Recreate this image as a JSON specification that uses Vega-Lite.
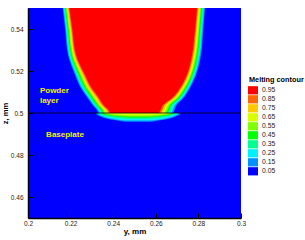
{
  "$schema": "https://vega.github.io/schema/vega-lite/v6.json",
  "width": 213,
  "height": 210,
  "autosize": {"type": "none"},
  "padding": {"left": 28, "top": 8, "right": 64, "bottom": 22},
  "background": "white",
  "config": {"view": {"fill": "#0000ff", "stroke": null}, "font": "Liberation Sans"},
  "datasets": {
    "field": [
      {"lev": "0.15", "z": 0.49586, "xl": 0.24573, "xr": 0.25756},
      {"lev": "0.15", "z": 0.4969, "xl": 0.23882, "xr": 0.26446},
      {"lev": "0.15", "z": 0.49834, "xl": 0.23389, "xr": 0.26939},
      {"lev": "0.15", "z": 0.4999, "xl": 0.23192, "xr": 0.27136},
      {"lev": "0.15", "z": 0.5, "xl": 0.23286, "xr": 0.26831},
      {"lev": "0.15", "z": 0.5014, "xl": 0.23225, "xr": 0.26878},
      {"lev": "0.15", "z": 0.5038, "xl": 0.23028, "xr": 0.26981},
      {"lev": "0.15", "z": 0.5071, "xl": 0.22793, "xr": 0.273},
      {"lev": "0.15", "z": 0.5119, "xl": 0.22474, "xr": 0.27606},
      {"lev": "0.15", "z": 0.5181, "xl": 0.22207, "xr": 0.27887},
      {"lev": "0.15", "z": 0.5276, "xl": 0.21878, "xr": 0.28122},
      {"lev": "0.15", "z": 0.5395, "xl": 0.21746, "xr": 0.28225},
      {"lev": "0.15", "z": 0.55, "xl": 0.21629, "xr": 0.2831},

      {"lev": "0.25", "z": 0.49643, "xl": 0.24601, "xr": 0.25727},
      {"lev": "0.25", "z": 0.49732, "xl": 0.23943, "xr": 0.26385},
      {"lev": "0.25", "z": 0.49857, "xl": 0.23474, "xr": 0.26854},
      {"lev": "0.25", "z": 0.4999, "xl": 0.23286, "xr": 0.27042},
      {"lev": "0.25", "z": 0.5, "xl": 0.23357, "xr": 0.26746},
      {"lev": "0.25", "z": 0.5014, "xl": 0.23294, "xr": 0.26796},
      {"lev": "0.25", "z": 0.5038, "xl": 0.23093, "xr": 0.26901},
      {"lev": "0.25", "z": 0.5071, "xl": 0.22861, "xr": 0.27233},
      {"lev": "0.25", "z": 0.5119, "xl": 0.22539, "xr": 0.27547},
      {"lev": "0.25", "z": 0.5181, "xl": 0.22266, "xr": 0.27833},
      {"lev": "0.25", "z": 0.5276, "xl": 0.21925, "xr": 0.28069},
      {"lev": "0.25", "z": 0.5395, "xl": 0.21788, "xr": 0.28177},
      {"lev": "0.25", "z": 0.55, "xl": 0.21668, "xr": 0.28263},

      {"lev": "0.35", "z": 0.49714, "xl": 0.24629, "xr": 0.25699},
      {"lev": "0.35", "z": 0.49786, "xl": 0.24004, "xr": 0.26324},
      {"lev": "0.35", "z": 0.49886, "xl": 0.23558, "xr": 0.2677},
      {"lev": "0.35", "z": 0.4999, "xl": 0.2338, "xr": 0.26948},
      {"lev": "0.35", "z": 0.5, "xl": 0.23427, "xr": 0.26661},
      {"lev": "0.35", "z": 0.5014, "xl": 0.23364, "xr": 0.26714},
      {"lev": "0.35", "z": 0.5038, "xl": 0.23157, "xr": 0.2682},
      {"lev": "0.35", "z": 0.5071, "xl": 0.22928, "xr": 0.27165},
      {"lev": "0.35", "z": 0.5119, "xl": 0.22603, "xr": 0.27489},
      {"lev": "0.35", "z": 0.5181, "xl": 0.22324, "xr": 0.27778},
      {"lev": "0.35", "z": 0.5276, "xl": 0.21972, "xr": 0.28016},
      {"lev": "0.35", "z": 0.5395, "xl": 0.21831, "xr": 0.28129},
      {"lev": "0.35", "z": 0.55, "xl": 0.21707, "xr": 0.28216},

      {"lev": "0.45", "z": 0.49786, "xl": 0.24664, "xr": 0.25664},
      {"lev": "0.45", "z": 0.4984, "xl": 0.24081, "xr": 0.26247},
      {"lev": "0.45", "z": 0.49914, "xl": 0.23664, "xr": 0.26664},
      {"lev": "0.45", "z": 0.4999, "xl": 0.23497, "xr": 0.26831},
      {"lev": "0.45", "z": 0.5, "xl": 0.23498, "xr": 0.26575},
      {"lev": "0.45", "z": 0.5014, "xl": 0.23433, "xr": 0.26632},
      {"lev": "0.45", "z": 0.5038, "xl": 0.23222, "xr": 0.2674},
      {"lev": "0.45", "z": 0.5071, "xl": 0.22996, "xr": 0.27098},
      {"lev": "0.45", "z": 0.5119, "xl": 0.22668, "xr": 0.2743},
      {"lev": "0.45", "z": 0.5181, "xl": 0.22383, "xr": 0.27724},
      {"lev": "0.45", "z": 0.5276, "xl": 0.22019, "xr": 0.27963},
      {"lev": "0.45", "z": 0.5395, "xl": 0.21873, "xr": 0.28081},
      {"lev": "0.45", "z": 0.55, "xl": 0.21745, "xr": 0.28169},

      {"lev": "0.55", "z": 0.49833, "xl": 0.24692, "xr": 0.25636},
      {"lev": "0.55", "z": 0.49875, "xl": 0.24142, "xr": 0.26186},
      {"lev": "0.55", "z": 0.49933, "xl": 0.23749, "xr": 0.2658},
      {"lev": "0.55", "z": 0.4999, "xl": 0.23591, "xr": 0.26737},
      {"lev": "0.55", "z": 0.5, "xl": 0.23568, "xr": 0.2649},
      {"lev": "0.55", "z": 0.5014, "xl": 0.23502, "xr": 0.2655},
      {"lev": "0.55", "z": 0.5038, "xl": 0.23287, "xr": 0.2666},
      {"lev": "0.55", "z": 0.5071, "xl": 0.23063, "xr": 0.27031},
      {"lev": "0.55", "z": 0.5119, "xl": 0.22733, "xr": 0.27371},
      {"lev": "0.55", "z": 0.5181, "xl": 0.22442, "xr": 0.27669},
      {"lev": "0.55", "z": 0.5276, "xl": 0.22066, "xr": 0.2791},
      {"lev": "0.55", "z": 0.5395, "xl": 0.21915, "xr": 0.28033},
      {"lev": "0.55", "z": 0.55, "xl": 0.21784, "xr": 0.28122},

      {"lev": "0.65", "z": 0.49881, "xl": 0.24727, "xr": 0.25601},
      {"lev": "0.65", "z": 0.49911, "xl": 0.24218, "xr": 0.2611},
      {"lev": "0.65", "z": 0.49952, "xl": 0.23854, "xr": 0.26474},
      {"lev": "0.65", "z": 0.4999, "xl": 0.23709, "xr": 0.26619},
      {"lev": "0.65", "z": 0.5, "xl": 0.23639, "xr": 0.26405},
      {"lev": "0.65", "z": 0.5014, "xl": 0.23571, "xr": 0.26467},
      {"lev": "0.65", "z": 0.5038, "xl": 0.23351, "xr": 0.26579},
      {"lev": "0.65", "z": 0.5071, "xl": 0.23131, "xr": 0.26963},
      {"lev": "0.65", "z": 0.5119, "xl": 0.22797, "xr": 0.27312},
      {"lev": "0.65", "z": 0.5181, "xl": 0.225, "xr": 0.27615},
      {"lev": "0.65", "z": 0.5276, "xl": 0.22113, "xr": 0.27858},
      {"lev": "0.65", "z": 0.5395, "xl": 0.21957, "xr": 0.27984},
      {"lev": "0.65", "z": 0.55, "xl": 0.21823, "xr": 0.28075},

      {"lev": "0.75", "z": 0.5, "xl": 0.23709, "xr": 0.2632},
      {"lev": "0.75", "z": 0.5014, "xl": 0.23641, "xr": 0.26385},
      {"lev": "0.75", "z": 0.5038, "xl": 0.23416, "xr": 0.26499},
      {"lev": "0.75", "z": 0.5071, "xl": 0.23198, "xr": 0.26896},
      {"lev": "0.75", "z": 0.5119, "xl": 0.22862, "xr": 0.27254},
      {"lev": "0.75", "z": 0.5181, "xl": 0.22559, "xr": 0.2756},
      {"lev": "0.75", "z": 0.5276, "xl": 0.2216, "xr": 0.27805},
      {"lev": "0.75", "z": 0.5395, "xl": 0.22, "xr": 0.27936},
      {"lev": "0.75", "z": 0.55, "xl": 0.21862, "xr": 0.28028},

      {"lev": "0.85", "z": 0.5, "xl": 0.2378, "xr": 0.26235},
      {"lev": "0.85", "z": 0.5014, "xl": 0.2371, "xr": 0.26303},
      {"lev": "0.85", "z": 0.5038, "xl": 0.2348, "xr": 0.26418},
      {"lev": "0.85", "z": 0.5071, "xl": 0.23266, "xr": 0.26828},
      {"lev": "0.85", "z": 0.5119, "xl": 0.22926, "xr": 0.27195},
      {"lev": "0.85", "z": 0.5181, "xl": 0.22617, "xr": 0.27506},
      {"lev": "0.85", "z": 0.5276, "xl": 0.22207, "xr": 0.27752},
      {"lev": "0.85", "z": 0.5395, "xl": 0.22042, "xr": 0.27888},
      {"lev": "0.85", "z": 0.55, "xl": 0.219, "xr": 0.27981},

      {"lev": "0.95", "z": 0.5, "xl": 0.2385, "xr": 0.2615},
      {"lev": "0.95", "z": 0.5014, "xl": 0.23779, "xr": 0.26221},
      {"lev": "0.95", "z": 0.5038, "xl": 0.23545, "xr": 0.26338},
      {"lev": "0.95", "z": 0.5071, "xl": 0.23333, "xr": 0.26761},
      {"lev": "0.95", "z": 0.5119, "xl": 0.22991, "xr": 0.27136},
      {"lev": "0.95", "z": 0.5181, "xl": 0.22676, "xr": 0.27451},
      {"lev": "0.95", "z": 0.5276, "xl": 0.22254, "xr": 0.27699},
      {"lev": "0.95", "z": 0.5395, "xl": 0.22084, "xr": 0.2784},
      {"lev": "0.95", "z": 0.55, "xl": 0.21939, "xr": 0.27934}
    ],
    "labels": [
      {"label": "Powder", "x": 0.2056, "z": 0.5106},
      {"label": "layer", "x": 0.2056, "z": 0.5059},
      {"label": "Baseplate", "x": 0.2085, "z": 0.4895}
    ],
    "iface": [{"z": 0.5}]
  },
  "layer": [
    {
      "data": {"name": "field"},
      "mark": {"type": "area", "orient": "horizontal", "interpolate": "monotone", "opacity": 1, "clip": true},
      "encoding": {
        "y": {
          "field": "z", "type": "quantitative",
          "scale": {"domain": [0.45, 0.55], "nice": false, "zero": false},
          "axis": {
            "orient": "left",
            "zindex": 1,
            "title": "z, mm",
            "values": [0.46, 0.48, 0.5, 0.52, 0.54],
            "format": "~g",
            "tickSize": -5,
            "tickColor": "black", "tickWidth": 1,
            "domainColor": "black", "domainWidth": 1.5,
            "labelFontSize": 6.5, "labelColor": "#222222", "labelPadding": 10, "labelFlush": false, "labelOverlap": false,
            "titleFontSize": 7.5, "titleFontWeight": "bold", "titleColor": "black", "titlePadding": 1,
            "grid": false
          }
        },
        "x": {
          "field": "xl", "type": "quantitative", "stack": null,
          "scale": {"domain": [0.2, 0.3], "nice": false, "zero": false},
          "axis": {
            "orient": "bottom",
            "zindex": 1,
            "title": "y, mm",
            "values": [0.2, 0.205, 0.21, 0.215, 0.22, 0.225, 0.23, 0.235, 0.24, 0.245, 0.25, 0.255, 0.26, 0.265, 0.27, 0.275, 0.28, 0.285, 0.29, 0.295, 0.3],
            "format": "~g",
            "labelExpr": "round(datum.value*1000) % 20 == 0 ? datum.label : ''",
            "tickSize": {"condition": {"test": "round(datum.value*1000) % 20 == 0", "value": -5}, "value": -3},
            "tickColor": "black", "tickWidth": 1,
            "domainColor": "black", "domainWidth": 1.5,
            "labelFontSize": 6.5, "labelColor": "#222222", "labelPadding": 7, "labelFlush": false, "labelOverlap": false,
            "titleFontSize": 8, "titleFontWeight": "bold", "titleColor": "black", "titlePadding": 1,
            "grid": false
          }
        },
        "x2": {"field": "xr"},
        "color": {
          "field": "lev", "type": "nominal",
          "scale": {
            "domain": ["0.95", "0.85", "0.75", "0.65", "0.55", "0.45", "0.35", "0.25", "0.15", "0.05"],
            "range": ["#ff0000", "#ff6600", "#ffc800", "#d8ff00", "#80ff00", "#00ff00", "#00ff90", "#00f0ff", "#0090ff", "#0000ff"]
          },
          "legend": {
            "orient": "none", "legendX": 221, "legendY": 68,
            "title": "Melting contour", "titleFontSize": 7.3, "titleFontWeight": "bold", "titleColor": "black", "titlePadding": 3,
            "labelFontSize": 6.8, "labelColor": "#222222", "labelOffset": 5,
            "symbolType": "M-1.33,-1.1H1.33V1.1H-1.33Z", "symbolSize": 56, "symbolStrokeWidth": 0, "symbolOpacity": 1,
            "rowPadding": -2.6, "padding": 0
          }
        }
      }
    },
    {
      "data": {"name": "iface"},
      "mark": {"type": "rule", "color": "#000000", "strokeWidth": 0.8},
      "encoding": {"y": {"field": "z", "type": "quantitative"}}
    },
    {
      "data": {"name": "labels"},
      "mark": {"type": "text", "align": "left", "baseline": "middle", "fontWeight": "bold", "fontSize": 8, "color": "#f0f000"},
      "encoding": {
        "x": {"field": "x", "type": "quantitative"},
        "y": {"field": "z", "type": "quantitative"},
        "text": {"field": "label"}
      }
    }
  ]
}
